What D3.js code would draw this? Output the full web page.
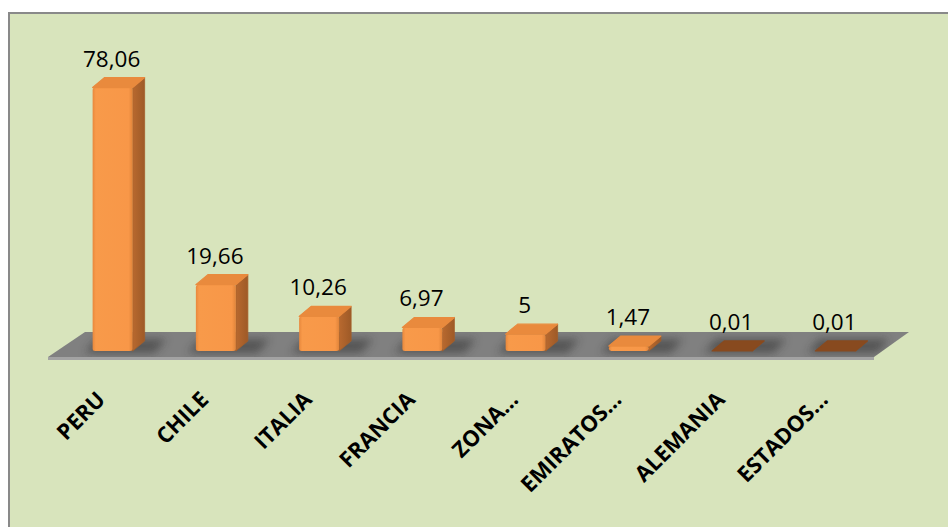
<!DOCTYPE html>
<html>
<head>
<meta charset="utf-8">
<script src="https://cdn.jsdelivr.net/npm/d3@7"></script>
<style>
  html, body { margin: 0; padding: 0; background: #ffffff; }
  svg { display: block; }
</style>
</head>
<body>
<script>
// Export destinations and their shares (%)
const categories = ["PERU", "CHILE", "ITALIA", "FRANCIA", "ZONA…", "EMIRATOS…", "ALEMANIA", "ESTADOS…"];
const values = [78.06, 19.66, 10.26, 6.97, 5, 1.47, 0.01, 0.01];
const valueLabels = ["78,06", "19,66", "10,26", "6,97", "5", "1,47", "0,01", "0,01"];

const W = 948, H = 527;
const svg = d3.select("body").append("svg").attr("width", W).attr("height", H);
const defs = svg.append("defs");

// Chart panel
svg.append("rect")
  .attr("x", 9).attr("y", 13)
  .attr("width", W + 20).attr("height", H + 20)
  .attr("fill", "#d8e4bc")
  .attr("stroke", "#898989")
  .attr("stroke-width", 2);

// Scales (positions of the bars' front plane)
const x = d3.scaleBand().domain(categories).range([61, 887]);
const y = d3.scaleLinear().domain([0, 80]).range([351, 81]);

const barW = 40;               // front face width
const dep = { x: 12, y: -10 }; // receding offset of a bar's back face
const y0 = y(0);

// Floor geometry, derived from the band range
const [r0, r1] = x.range();
const floorFrontY = y0 + 6, floorBackY = y0 - 19;
const floorFrontDx = -13, floorBackDx = 24;
const floorPts = [
  [r0 + floorBackDx, floorBackY],
  [r1 + floorBackDx - 2, floorBackY],
  [r1 + floorFrontDx, floorFrontY],
  [r0 + floorFrontDx, floorFrontY]
];

defs.append("clipPath").attr("id", "floorClip")
  .append("polygon").attr("points", floorPts.map(p => p.join(",")).join(" "));

defs.append("filter").attr("id", "soft")
  .attr("x", "-50%").attr("y", "-100%").attr("width", "200%").attr("height", "300%")
  .append("feGaussianBlur").attr("stdDeviation", 4);

// Front face gradient with bevelled edges
const fg = defs.append("linearGradient").attr("id", "frontGrad")
  .attr("x1", "0").attr("x2", "1").attr("y1", "0").attr("y2", "0");
fg.append("stop").attr("offset", "0%").attr("stop-color", "#e8883c");
fg.append("stop").attr("offset", "8%").attr("stop-color", "#f89a4a");
fg.append("stop").attr("offset", "90%").attr("stop-color", "#f89748");
fg.append("stop").attr("offset", "100%").attr("stop-color", "#e0843a");

const sg = defs.append("linearGradient").attr("id", "sideGrad")
  .attr("x1", "0").attr("x2", "1").attr("y1", "0").attr("y2", "0");
sg.append("stop").attr("offset", "0%").attr("stop-color", "#b8692f");
sg.append("stop").attr("offset", "100%").attr("stop-color", "#9e5a27");

// Floor: front lip, then top face
svg.append("polygon")
  .attr("points", [
    [r0 + floorFrontDx, floorFrontY], [r1 + floorFrontDx, floorFrontY],
    [r1 + floorFrontDx, floorFrontY + 3], [r0 + floorFrontDx, floorFrontY + 3]
  ].map(p => p.join(",")).join(" "))
  .attr("fill", "#a3a3a3");

svg.append("polygon")
  .attr("points", floorPts.map(p => p.join(",")).join(" "))
  .attr("fill", "#808080");

// Soft shadows around the bar bases
const shadowG = svg.append("g").attr("clip-path", "url(#floorClip)");
shadowG.selectAll("polygon")
  .data(categories)
  .join("polygon")
  .attr("points", d => {
    const cx = x(d) + x.bandwidth() / 2;
    const xl = cx - barW / 2;
    const a = [xl - 8, y0 + 2], b = [xl + barW + 22, y0 + 2];
    const c = [xl + barW + 22 + dep.x, y0 + dep.y - 2], e = [xl - 8 + dep.x, y0 + dep.y - 2];
    return [a, b, c, e].map(p => p.join(",")).join(" ");
  })
  .attr("fill", "#333")
  .attr("opacity", 0.55)
  .attr("filter", "url(#soft)");

// Bars
const bars = svg.append("g").selectAll("g")
  .data(values.map((v, i) => ({ v, c: categories[i], label: valueLabels[i] })))
  .join("g");

const topColor = d3.interpolateRgb("#87491f", "#e98a3d");

bars.each(function(d) {
  const g = d3.select(this);
  const cx = x(d.c) + x.bandwidth() / 2;
  const xl = cx - barW / 2, xr = xl + barW;
  const yt = y(d.v);
  const h = y0 - yt;

  // right side face
  g.append("polygon")
    .attr("points", [[xr, yt], [xr + dep.x, yt + dep.y], [xr + dep.x, y0 + dep.y], [xr, y0]]
      .map(p => p.join(",")).join(" "))
    .attr("fill", "url(#sideGrad)")
    .attr("stroke", "#a35e2a").attr("stroke-width", 0.8).attr("stroke-linejoin", "round");

  // front face
  if (h > 0.5) {
    g.append("rect")
      .attr("x", xl).attr("y", yt)
      .attr("width", barW).attr("height", h)
      .attr("rx", Math.min(2.5, h / 2))
      .attr("fill", "url(#frontGrad)");
  }

  // top face
  g.append("polygon")
    .attr("points", [[xl, yt], [xl + dep.x, yt + dep.y], [xr + dep.x, yt + dep.y], [xr, yt]]
      .map(p => p.join(",")).join(" "))
    .attr("fill", topColor(Math.min(1, h / 4)))
    .attr("stroke", topColor(Math.min(1, h / 4)))
    .attr("stroke-width", 1.2).attr("stroke-linejoin", "round");

  // value label
  g.append("text")
    .attr("x", cx - 1)
    .attr("y", yt - 21)
    .attr("text-anchor", "middle")
    .attr("font-family", "'Open Sans', sans-serif")
    .attr("font-size", 22.5)
    .attr("fill", "#000")
    .text(d.label);
});

// Category labels, rotated
svg.append("g").selectAll("text")
  .data(categories)
  .join("text")
  .attr("transform", d => `translate(${x(d) + x.bandwidth() / 2 - 6},${y0 + 50}) rotate(-45)`)
  .attr("text-anchor", "end")
  .attr("font-family", "'Open Sans', sans-serif")
  .attr("font-weight", "bold")
  .attr("font-size", 22)
  .attr("fill", "#000")
  .text(d => d);
</script>
</body>
</html>
